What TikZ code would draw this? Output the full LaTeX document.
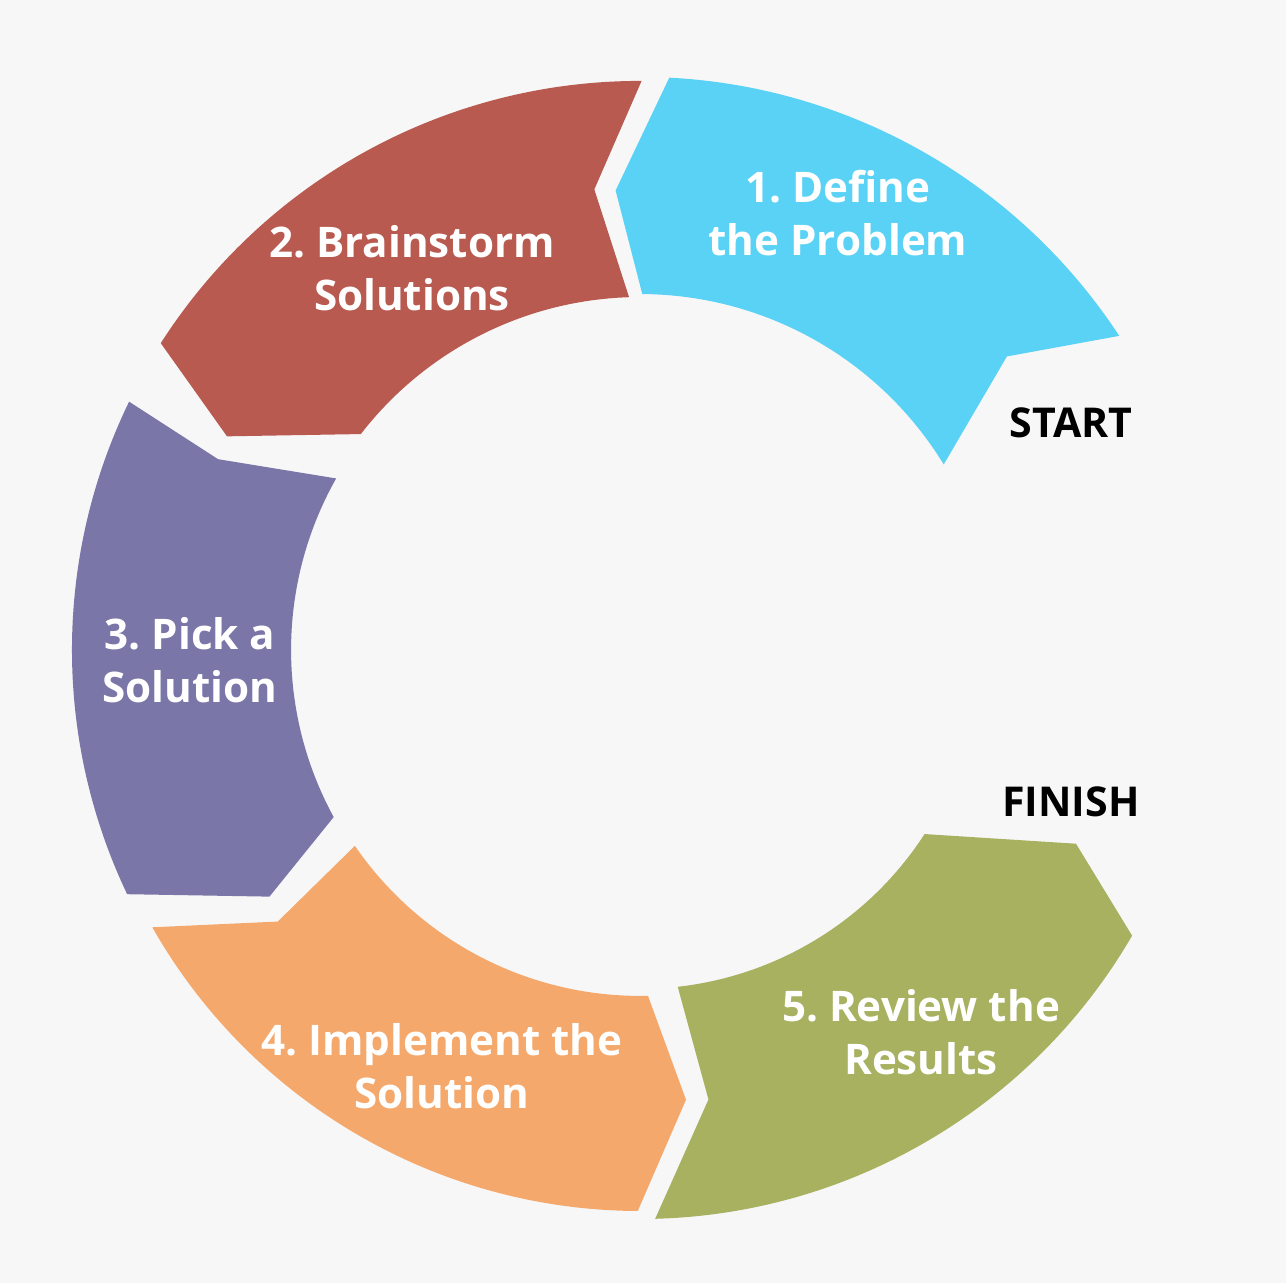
\documentclass[tikz,border=0pt]{standalone}
\usepackage{fontspec}
\setmainfont{Open Sans}
\usepackage{tikz}
\frenchspacing
\definecolor{bgcol}{HTML}{F7F7F8}
\definecolor{definecol}{HTML}{5AD2F5}
\definecolor{braincol}{HTML}{B85A50}
\definecolor{pickcol}{HTML}{7B76A8}
\definecolor{implcol}{HTML}{F5A86B}
\definecolor{reviewcol}{HTML}{A8B160}

\begin{document}
\begin{tikzpicture}[
    every node/.style={font=\bfseries\fontsize{12}{15}\selectfont},
    part/.style={draw=black!28, line width=0.6pt},
    steptext/.style={text=white, align=center},
    marker/.style={text=black, font=\bfseries\fontsize{11.7}{14}\selectfont}
]

% Canvas
\fill[bgcol] (-6.40,-6.33) rectangle (6.46,6.50);
\useasboundingbox (-6.40,-6.33) rectangle (6.46,6.50);

% Ring parts
\fill[part, definecol] (33.4:5.72) arc[start angle=33.4, end angle=87, radius=5.72] -- (92.9:4.6) -- (89.5:3.57) arc[start angle=89.5, end angle=31.7, radius=3.57] -- (38.8:4.7) -- cycle;
\fill[part, braincol] (90:5.68) arc[start angle=90, end angle=147.3, radius=5.68] -- (152.5:4.65) -- (142.2:3.54) arc[start angle=142.2, end angle=92, radius=3.54] -- (95.8:4.63) -- cycle;
\fill[part, pickcol] (154.2:5.67) arc[start angle=154.2, end angle=205.4, radius=5.67] -- (213.5:4.45) -- (208.5:3.5) arc[start angle=208.5, end angle=150.8, radius=3.5] -- (155.8:4.63) -- cycle;
\fill[part, implcol] (209.8:5.6) arc[start angle=209.8, end angle=269.7, radius=5.6] -- (275.7:4.52) -- (271.2:3.47) arc[start angle=271.2, end angle=214.7, radius=3.47] -- (217:4.53) -- cycle;
\fill[part, reviewcol] (271.7:5.68) arc[start angle=271.7, end angle=329.8, radius=5.68] -- (335.9:4.77) -- (327:3.4) arc[start angle=327, end angle=276.6, radius=3.4] -- (278.8:4.55) -- cycle;

% Labels
\node[steptext] (define) at (1.98,4.37) {1. Define\\the Problem};
\node[steptext] (brain) at (-2.28,3.82) {2. Brainstorm\\Solutions};
\node[steptext] (pick) at (-4.50,-0.10) {3. Pick a\\Solution};
\node[steptext] (impl) at (-1.98,-4.16) {4. Implement the\\Solution};
\node[steptext] (review) at (2.81,-3.82) {5. Review the\\Results};
\node[marker] (start) at (4.31,2.27) {START};
\node[marker] (finish) at (4.31,-1.52) {FINISH};

\end{tikzpicture}
\end{document}
